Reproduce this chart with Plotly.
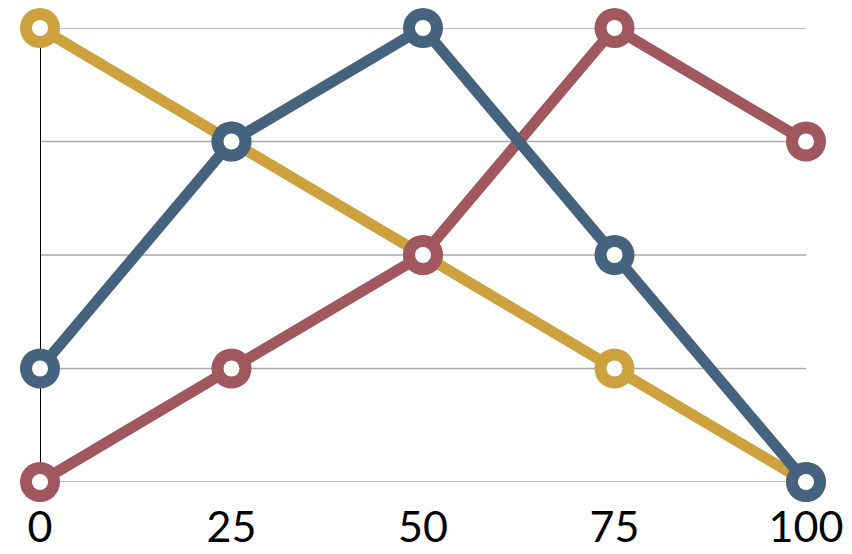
import plotly.graph_objects as go

x_vals = [0, 25, 50, 75, 100]
tick_labels = ["0", "25", "50", "75", "100"]
grid_levels = [0, 1, 2, 3, 4]
yellow_vals = [4, 3, 2, 1, 0]
red_vals = [0, 1, 2, 4, 3]
blue_vals = [1, 3, 4, 2, 0]

series = [
    ("Yellow", yellow_vals, "#CDA23E"),
    ("Red", red_vals, "#A1575E"),
    ("Blue", blue_vals, "#45637F"),
]

fig = go.Figure()
for name, vals, col in series:
    fig.add_trace(go.Scatter(
        x=x_vals, y=vals, name=name, mode="lines+markers",
        line=dict(color=col, width=11),
        marker=dict(size=40, color=col, line=dict(width=0)),
        cliponaxis=False,
    ))
    fig.add_trace(go.Scatter(
        x=x_vals, y=vals, name=name, mode="markers",
        marker=dict(size=16, color="white", line=dict(width=0)),
        cliponaxis=False, hoverinfo="skip",
    ))

fig.update_layout(
    width=852, height=554,
    margin=dict(l=40, r=46, t=28, b=72),
    paper_bgcolor="white", plot_bgcolor="white",
    showlegend=False,
    font=dict(family="Lato, sans-serif", color="black"),
)
fig.update_xaxes(
    range=[0, 100], tickvals=x_vals, ticktext=tick_labels,
    showgrid=False, zeroline=False, showline=False, automargin=False,
    ticks="", tickfont=dict(size=43), ticklabelstandoff=16,
)
fig.update_yaxes(
    range=[0, 4], showticklabels=False, automargin=False,
    showgrid=False, zeroline=False, showline=False, ticks="",
)
for lv in grid_levels:
    fig.add_shape(type="line", xref="x", yref="y", x0=0, x1=100, y0=lv, y1=lv,
                  line=dict(color="#AAAAAA", width=1.5), layer="below")
fig.add_shape(type="line", xref="x", yref="y", x0=0, x1=0, y0=0, y1=4,
              line=dict(color="black", width=2), layer="below")
fig.write_html("out.html")
